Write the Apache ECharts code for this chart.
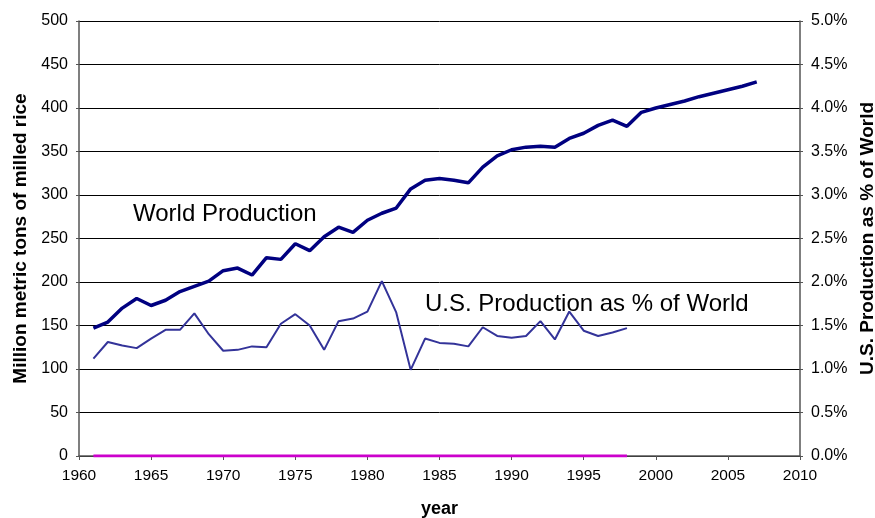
<!DOCTYPE html>
<html>
<head>
<meta charset="utf-8">
<script src="https://cdn.jsdelivr.net/npm/echarts@6/dist/echarts.min.js"></script>
<style>
  html, body { margin: 0; padding: 0; background: #fff; }
  #chart { width: 875px; height: 518px; }
</style>
</head>
<body>
<div id="chart"></div>
<script>
// world rice production, million metric tons, 1961-2007
const worldYears = [1961, 1962, 1963, 1964, 1965, 1966, 1967, 1968, 1969, 1970,
  1971, 1972, 1973, 1974, 1975, 1976, 1977, 1978, 1979, 1980,
  1981, 1982, 1983, 1984, 1985, 1986, 1987, 1988, 1989, 1990,
  1991, 1992, 1993, 1994, 1995, 1996, 1997, 1998, 1999, 2000,
  2001, 2002, 2003, 2004, 2005, 2006, 2007];
const worldProd = [147, 154, 170, 181, 173, 179, 189, 195, 201, 213,
  216, 208, 228, 226, 244, 236, 252, 263, 257, 271,
  279, 285, 307, 317, 319, 317, 314, 332, 345, 352,
  355, 356, 355, 365, 371, 380, 386, 379, 395, 400,
  404, 408, 413, 417, 421, 425, 430];

// US production as % of world, 1961-1998
const usYears = [1961, 1962, 1963, 1964, 1965, 1966, 1967, 1968, 1969, 1970,
  1971, 1972, 1973, 1974, 1975, 1976, 1977, 1978, 1979, 1980,
  1981, 1982, 1983, 1984, 1985, 1986, 1987, 1988, 1989, 1990,
  1991, 1992, 1993, 1994, 1995, 1996, 1997, 1998];
const usShare = [1.12, 1.31, 1.27, 1.24, 1.35, 1.45, 1.45, 1.64, 1.40, 1.21,
  1.22, 1.26, 1.25, 1.52, 1.63, 1.50, 1.22, 1.55, 1.58, 1.66,
  2.01, 1.65, 0.99, 1.35, 1.30, 1.29, 1.26, 1.48, 1.38, 1.36,
  1.38, 1.55, 1.34, 1.66, 1.44, 1.38, 1.42, 1.47];
const baseLine = [0, 0, 0, 0, 0, 0, 0, 0, 0, 0,
  0, 0, 0, 0, 0, 0, 0, 0, 0, 0,
  0, 0, 0, 0, 0, 0, 0, 0, 0, 0,
  0, 0, 0, 0, 0, 0, 0, 0];

const font = 'Liberation Sans, Arial, sans-serif';
const chart = echarts.init(document.getElementById('chart'), null, { renderer: 'canvas' });

function pairs(xs, ys) {
  return xs.map(function (x, i) { return [x, ys[i]]; });
}

chart.setOption({
  animation: false,
  textStyle: { fontFamily: font },
  grid: { left: 79, right: 75, top: 21, bottom: 62, outerBoundsMode: 'none' },
  xAxis: {
    type: 'value',
    min: 1960, max: 2010, interval: 5,
    name: 'year',
    nameLocation: 'middle',
    nameGap: 44,
    nameTextStyle: { fontFamily: font, fontSize: 18, fontWeight: 'bold', color: '#000' },
    axisLine: { lineStyle: { color: '#555', width: 1.5 } },
    axisTick: { show: true, length: 4, lineStyle: { color: '#555' } },
    axisLabel: {
      color: '#000', fontSize: 15.5, fontFamily: font, margin: 12,
      formatter: function (v) { return String(v); }
    },
    splitLine: { show: false }
  },
  yAxis: [
    {
      type: 'value',
      min: 0, max: 500, interval: 50,
      name: 'Million metric tons of milled rice',
      nameLocation: 'middle',
      nameRotate: 90,
      nameGap: 49,
      nameTextStyle: { fontFamily: font, fontSize: 19, fontWeight: 'bold', color: '#000' },
      axisLine: { show: true, lineStyle: { color: '#555', width: 1.5 } },
      axisTick: { show: true, length: 3, lineStyle: { color: '#555' } },
      axisLabel: { color: '#000', fontSize: 16, fontFamily: font, margin: 11 },
      splitLine: { show: true, lineStyle: { color: '#000', width: 1 } }
    },
    {
      type: 'value',
      min: 0, max: 5, interval: 0.5,
      position: 'right',
      name: 'U.S. Production as % of World',
      nameLocation: 'middle',
      nameRotate: 90,
      nameGap: 56,
      nameTextStyle: { fontFamily: font, fontSize: 19, fontWeight: 'bold', color: '#000' },
      axisLine: { show: true, lineStyle: { color: '#555', width: 1.5 } },
      axisTick: { show: true, length: 3, lineStyle: { color: '#555' } },
      axisLabel: {
        color: '#000', fontSize: 16, fontFamily: font, margin: 11,
        formatter: function (v) { return v.toFixed(1) + '%'; }
      },
      splitLine: { show: false }
    }
  ],
  series: [
    {
      name: 'Zero',
      type: 'line',
      yAxisIndex: 0,
      data: pairs(usYears, baseLine),
      showSymbol: false,
      lineStyle: { color: '#CC00CC', width: 3 },
      z: 6
    },
    {
      name: 'U.S. Production as % of World',
      type: 'line',
      yAxisIndex: 1,
      data: pairs(usYears, usShare),
      showSymbol: false,
      lineStyle: { color: '#333399', width: 2 },
      z: 4
    },
    {
      name: 'World Production',
      type: 'line',
      yAxisIndex: 0,
      data: pairs(worldYears, worldProd),
      showSymbol: false,
      lineStyle: { color: '#000080', width: 3.5 },
      z: 5
    }
  ],
  graphic: [
    {
      type: 'text', left: 133, top: 202,
      style: { text: 'World Production', font: '24px ' + font, fill: '#000' }
    },
    {
      type: 'text', left: 425, top: 292,
      style: { text: 'U.S. Production as % of World', font: '24px ' + font, fill: '#000' }
    }
  ]
});
</script>
</body>
</html>
